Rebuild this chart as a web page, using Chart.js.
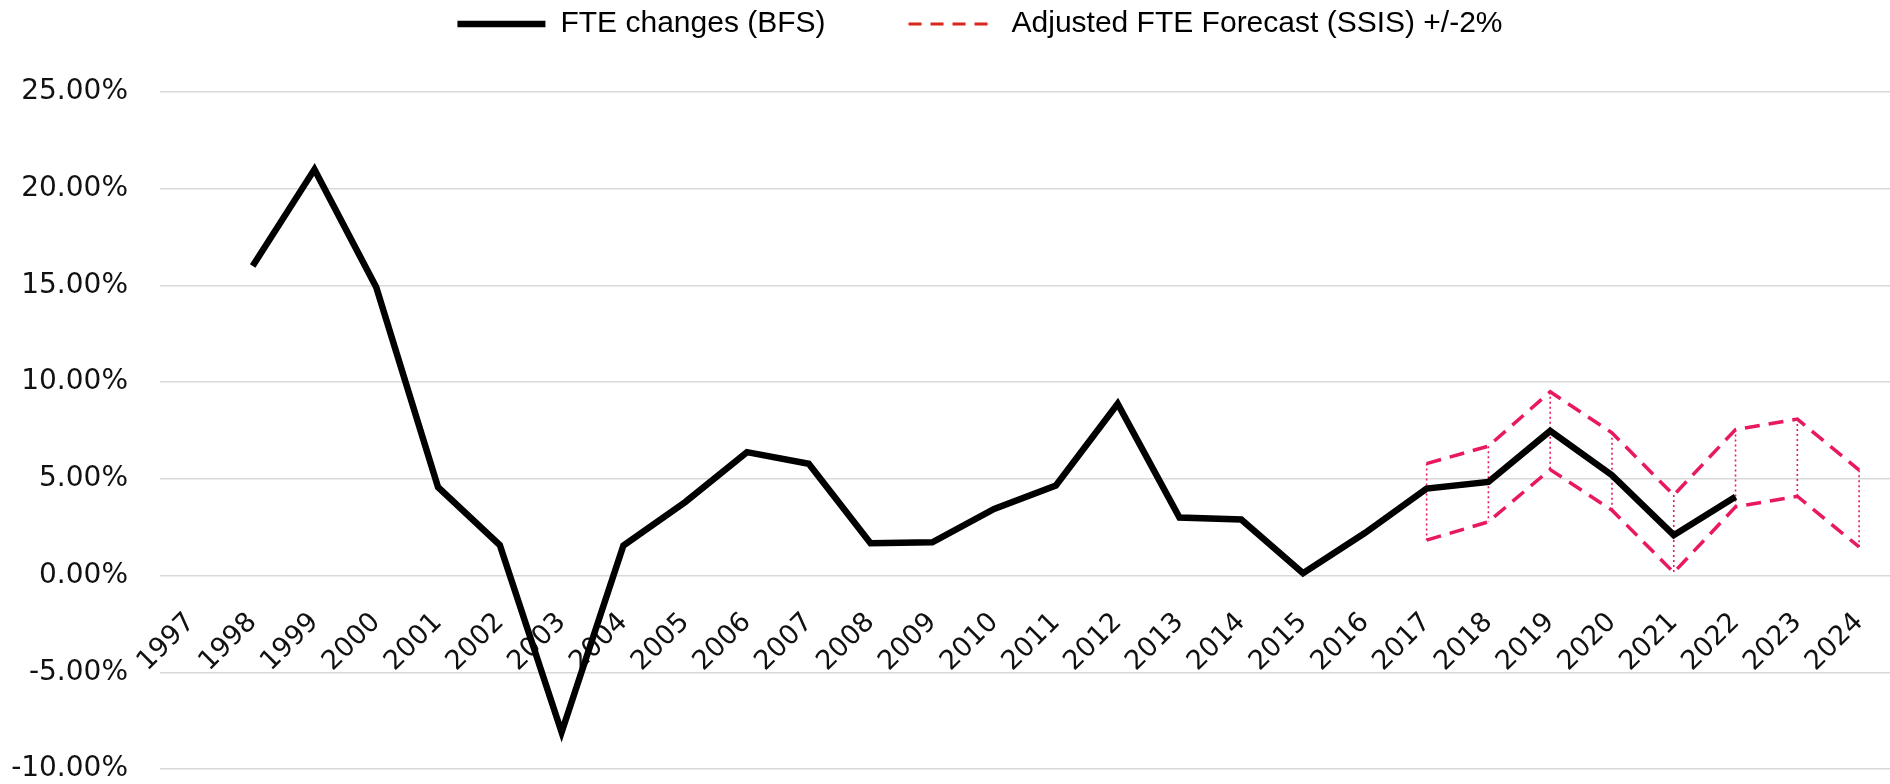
<!DOCTYPE html>
<html>
<head>
<meta charset="utf-8">
<script src="https://cdn.jsdelivr.net/npm/chart.js@4"></script>
<style>
    html, body { margin: 0; padding: 0; background: #fff; }
    #wrap { width: 1890px; height: 784px; }
</style>
</head>
<body>
<div id="wrap"><canvas id="fte-chart"></canvas></div>
<script>
const years = ['1997', '1998', '1999', '2000', '2001', '2002', '2003', '2004', '2005', '2006',
    '2007', '2008', '2009', '2010', '2011', '2012', '2013', '2014', '2015', '2016',
    '2017', '2018', '2019', '2020', '2021', '2022', '2023', '2024'];

// FTE changes (BFS), % per year, 1997 has no value
const bfsChanges = [null, 16.0, 21.0, 14.9, 4.57, 1.58, -8.1, 1.55, 3.8, 6.38,
    5.78, 1.67, 1.72, 3.45, 4.66, 8.88, 3.0, 2.9, 0.12, 2.2,
    4.5, 4.84, 7.48, 5.19, 2.09, 4.07];

// adjusted forecast band (SSIS) +/-2%, 2017..2024
const forecastYears = ['2017', '2018', '2019', '2020', '2021', '2022', '2023', '2024'];
const forecastUpper = [5.79, 6.69, 9.5, 7.38, 4.16, 7.55, 8.09, 5.45];
const forecastLower = [1.83, 2.78, 5.48, 3.38, 0.16, 3.55, 4.1, 1.48];

const yTicks = [25, 20, 15, 10, 5, 0, -5, -10];

const forecastPink = '#e8195e';
const legendRed = '#d9261c';

function alignToYears(subYears, values) {
    return years.map(y => {
        const i = subYears.indexOf(y);
        return i === -1 ? null : values[i];
    });
}

// thin dotted connectors between upper and lower forecast points
const bandConnectors = {
    id: 'bandConnectors',
    beforeDatasetsDraw(chart) {
        const up = chart.getDatasetMeta(1).data;
        const low = chart.getDatasetMeta(2).data;
        const ctx = chart.ctx;
        ctx.save();
        ctx.strokeStyle = forecastPink;
        ctx.lineWidth = 1.6;
        ctx.setLineDash([2, 3]);
        up.forEach((p, i) => {
            if (p.skip || !low[i] || low[i].skip) return;
            ctx.beginPath();
            ctx.moveTo(p.x, p.y);
            ctx.lineTo(low[i].x, low[i].y);
            ctx.stroke();
        });
        ctx.restore();
    }
};

// legend sits in a taller band and a bit right of centre, like the original
const legendPlacement = {
    id: 'legendPlacement',
    afterInit(chart) {
        const legend = chart.legend;
        const fit = legend.fit;
        legend.fit = function() {
            fit.call(this);
            this.height = 92;
        };
    },
    beforeDraw(chart) {
        chart.legend.left = 70;
        chart.legend.top = -74;
    }
};

const ctx = document.getElementById('fte-chart').getContext('2d');
const chart = new Chart(ctx, {
    type: 'line',
    data: {
        labels: years,
        datasets: [{
            label: 'FTE changes (BFS)',
            data: bfsChanges,
            borderColor: '#000',
            backgroundColor: '#000',
            borderWidth: 6.5,
            borderJoinStyle: 'miter',
            pointRadius: 0,
            tension: 0,
            order: 0,
        }, {
            label: 'Adjusted FTE Forecast (SSIS) +/-2%',
            data: alignToYears(forecastYears, forecastUpper),
            borderColor: forecastPink,
            borderWidth: 3.5,
            borderDash: [15, 9],
            pointRadius: 0,
            tension: 0,
            order: 1,
        }, {
            label: 'lower',
            data: alignToYears(forecastYears, forecastLower),
            borderColor: forecastPink,
            borderWidth: 3.5,
            borderDash: [15, 9],
            pointRadius: 0,
            tension: 0,
            order: 1,
        }]
    },
    options: {
        responsive: true,
        maintainAspectRatio: false,
        animation: false,
        layout: { padding: { left: 0, right: 0, top: 0, bottom: 15 } },
        plugins: {
            tooltip: { enabled: false },
            legend: {
                position: 'top',
                labels: {
                    color: '#000',
                    font: { family: '"Liberation Sans", Arial, sans-serif', size: 30 },
                    usePointStyle: true,
                    pointStyleWidth: 88,
                    boxHeight: 30,
                    padding: 83,
                    filter: item => item.text !== 'lower',
                    generateLabels(chart) {
                        const items = Chart.defaults.plugins.legend.labels.generateLabels(chart);
                        items.forEach(item => {
                            item.pointStyle = 'line';
                            if (item.datasetIndex === 1) {
                                item.strokeStyle = legendRed;
                                item.lineDash = [13, 9];
                                item.lineWidth = 3;
                            }
                        });
                        return items;
                    }
                }
            }
        },
        scales: {
            x: {
                position: { y: 0 },
                offset: true,
                afterFit(scale) {
                    scale.height = 0;
                    scale.paddingLeft = 0;
                    scale.paddingRight = 0;
                },
                grid: { display: false },
                border: { display: false },
                ticks: {
                    color: '#111',
                    font: { family: '"DejaVu Sans", sans-serif', size: 27 },
                    autoSkip: false,
                    maxRotation: 45,
                    minRotation: 45,
                    padding: 23,
                }
            },
            y: {
                min: -10,
                max: 25,
                afterBuildTicks(scale) {
                    scale.ticks = yTicks.map(v => ({ value: v }));
                },
                afterFit(scale) {
                    scale.width = 160;
                    scale.paddingTop = 0;
                    scale.paddingBottom = 0;
                },
                grid: { color: '#d9d9d9', lineWidth: 1.5, drawTicks: false },
                border: { display: false },
                ticks: {
                    color: '#111',
                    font: { family: '"DejaVu Sans", sans-serif', size: 28 },
                    padding: 32,
                    callback: v => v.toFixed(2) + '%',
                }
            }
        }
    },
    plugins: [bandConnectors, legendPlacement]
});
</script>
</body>
</html>
